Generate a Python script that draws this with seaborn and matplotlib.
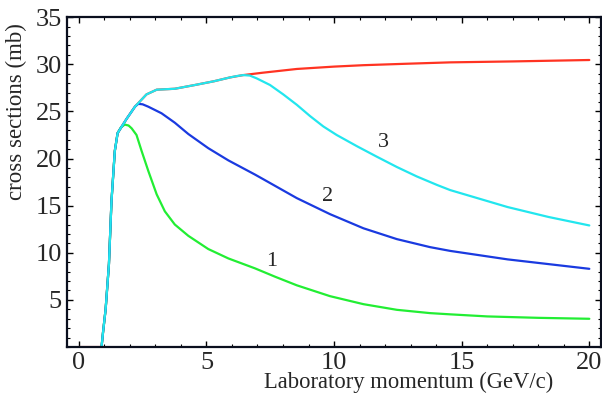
import matplotlib
matplotlib.use('Agg')
import matplotlib.pyplot as plt
import seaborn as sns
import pandas as pd
from matplotlib.ticker import MultipleLocator

# threshold rise, common to all four curves
rise_x = [0.89, 0.95, 1.05, 1.18, 1.28, 1.41, 1.52]
rise_y = [0.0, 1.6, 4.0, 8.8, 15.5, 20.8, 22.7]

# red: total (no cut)
red_x = [0.0] + rise_x + [1.87, 2.2, 2.65, 3.05, 3.76, 4.55, 5.3, 5.92, 6.44, 7.2, 8.54,
                          10.0, 11.15, 12.8, 14.55, 17.0, 20.0]
red_y = [0.0] + rise_y + [24.2, 25.5, 26.8, 27.3, 27.4, 27.8, 28.2, 28.6, 28.85, 29.1, 29.5,
                          29.75, 29.9, 30.05, 30.2, 30.3, 30.45]

# curve 1 (green)
green_x = rise_x + [1.65, 1.80, 1.95, 2.07, 2.26, 2.46, 2.72, 3.05, 3.37, 3.76, 4.29, 5.07,
                    5.86, 6.9, 7.7, 8.54, 9.84, 11.15, 12.46, 13.76, 14.55, 16.0, 18.0, 20.0]
green_y = rise_y + [23.3, 23.6, 23.5, 23.2, 22.5, 20.8, 18.7, 16.2, 14.4, 13.0, 11.8, 10.4,
                    9.4, 8.35, 7.45, 6.55, 5.4, 4.55, 3.95, 3.6, 3.47, 3.25, 3.1, 3.0]

# curve 2 (blue)
blue_x = rise_x + [1.87, 2.2, 2.33, 2.5, 2.72, 3.24, 3.76, 4.29, 5.07, 5.86, 6.9, 7.23,
                   8.54, 9.84, 11.15, 12.46, 13.76, 14.55, 16.8, 18.4, 20.0]
blue_y = rise_y + [24.2, 25.5, 25.8, 25.75, 25.5, 24.8, 23.8, 22.6, 21.1, 19.8, 18.3, 17.8,
                   15.8, 14.1, 12.6, 11.45, 10.6, 10.2, 9.3, 8.8, 8.3]

# curve 3 (cyan)
cyan_x = rise_x + [1.87, 2.2, 2.65, 3.05, 3.76, 4.55, 5.3, 5.92, 6.2, 6.44, 6.7, 6.97, 7.49,
                   8.01, 8.54, 9.06, 9.58, 10.1, 10.9, 11.67, 12.46, 13.24, 14.03, 14.55,
                   16.8, 18.4, 20.0]
cyan_y = rise_y + [24.2, 25.5, 26.8, 27.3, 27.4, 27.8, 28.2, 28.6, 28.75, 28.85, 28.8, 28.5,
                   27.8, 26.8, 25.7, 24.5, 23.4, 22.5, 21.3, 20.2, 19.1, 18.1, 17.2, 16.65,
                   14.85, 13.8, 12.9]

curve_labels = ['1', '2', '3']
label_x = [7.57, 9.76, 11.92]
label_y = [9.1, 16.0, 21.7]

sns.set_style('ticks')
plt.rcParams['font.family'] = ['Liberation Serif', 'DejaVu Serif']

fig = plt.figure(figsize=(6.02, 3.98), dpi=100)
ax = fig.add_axes([0.111, 0.128, 0.887, 0.829])

series = [(red_x, red_y, '#ff3322'), (green_x, green_y, '#22ee33'),
          (blue_x, blue_y, '#1a3ae0'), (cyan_x, cyan_y, '#22e6ee')]
for xs, ys, col in series:
    df = pd.DataFrame({'p': xs, 'sigma': ys})
    sns.lineplot(data=df, x='p', y='sigma', ax=ax, color=col, lw=1.6,
                 sort=False, estimator=None)

for lab, lx, ly in zip(curve_labels, label_x, label_y):
    ax.text(lx, ly, lab, fontsize=16, ha='center', va='center')

ax.set_xlim(-0.47, 20.45)
ax.set_ylim(0, 35)
ax.set_xticks([0, 5, 10, 15, 20])
ax.set_yticks([5, 10, 15, 20, 25, 30, 35])
ax.xaxis.set_minor_locator(MultipleLocator(1))
ax.yaxis.set_minor_locator(MultipleLocator(1))
ax.tick_params(which='both', direction='in', top=True, right=True, labelsize=19,
               color='black')
ax.tick_params(which='major', length=4, width=1)
ax.tick_params(which='minor', length=2.5, width=0.8)
for s in ax.spines.values():
    s.set_linewidth(1.6)
    s.set_color('#0a0f1e')

ax.set_xlabel('Laboratory momentum (GeV/c)', fontsize=16.3)
ax.set_ylabel('cross sections (mb)', fontsize=16.5)
ax.xaxis.set_label_coords(0.64, -0.075)
ax.yaxis.set_label_coords(-0.074, 0.715)

fig.savefig('out.png', dpi=100)
